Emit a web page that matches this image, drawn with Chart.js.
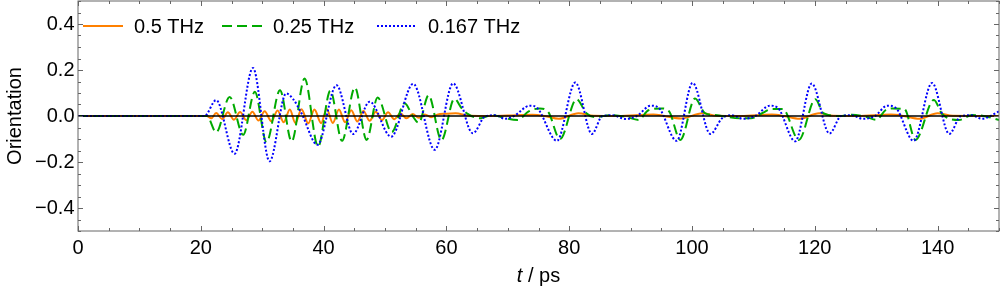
<!DOCTYPE html>
<html>
<head>
<meta charset="utf-8">
<script src="https://cdn.jsdelivr.net/npm/chart.js@4.4.1/dist/chart.umd.min.js"></script>
<style>
  html, body { margin: 0; padding: 0; background: #fff; }
  canvas { display: block; }
</style>
</head>
<body>
<canvas id="chart" width="1000" height="295"></canvas>
<script>
// series: time (ps) and orientation
const t05 = [0, 21.0, 21.7, 22.5, 23.5, 24.4, 25.4, 26.4, 27.4, 28.4, 29.4, 30.4, 31.5, 32.5, 33.5, 34.5, 35.4, 36.4, 37.5, 38.5, 39.6, 40.5, 41.5, 42.5, 43.5, 44.5, 45.5, 46.5, 47.5, 48.5, 49.5, 50.5, 51.5, 52.5, 53.5, 54.5, 55.5, 56.5, 57.5, 58.5, 60.0, 61.5, 63.5, 66, 70, 74, 76, 78.3, 81.5, 84, 88, 93.7, 95.5, 98.2, 101.7, 104, 108, 113, 115, 117.5, 120.7, 123, 127, 132.4, 134.5, 137, 140, 142.5, 150];
const y05 = [0, 0, -0.01, 0.013, -0.013, 0.016, -0.016, 0.017, -0.018, 0.019, -0.02, 0.021, -0.023, 0.024, -0.027, 0.028, -0.03, 0.029, -0.032, 0.028, -0.031, 0.03, -0.03, 0.028, -0.027, 0.025, -0.024, 0.022, -0.021, 0.019, -0.018, 0.016, -0.014, 0.012, -0.01, 0.009, -0.008, 0.007, -0.005, 0.006, 0.01, 0.012, 0.002, 0, 0.002, 0.005, 0, -0.012, 0.012, 0.001, 0, 0.007, 0, -0.011, 0.012, 0.001, 0, 0.006, 0, -0.012, 0.012, 0.001, 0, 0.006, 0, -0.012, 0.012, 0.001, 0];

const t025 = [0, 21.0, 22.5, 24.7, 26.9, 28.8, 30.7, 32.9, 34.8, 36.9, 39.1, 41.1, 43.0, 45.1, 47.0, 48.8, 51.1, 53.2, 54.5, 55.5, 57.1, 59.2, 61.3, 62.5, 63.4, 65.5, 67.5, 69.4, 71.6, 73.4, 75.2, 76.6, 78.5, 81.2, 82.8, 84.2, 86.9, 89.1, 91.3, 92.9, 95.1, 96.3, 98.1, 100.5, 102.1, 103.7, 107.9, 109.6, 111.4, 113.0, 114.8, 117.4, 120.1, 121.4, 124, 126, 128.5, 130.0, 131.5, 132.6, 134.6, 136.4, 139.4, 140.7, 143.5, 145.6, 147.5, 150];
const y025 = [0, 0, -0.071, 0.083, -0.082, 0.105, -0.114, 0.112, -0.111, 0.163, -0.133, 0.11, -0.108, 0.124, -0.104, 0.08, -0.07, 0.055, 0, -0.03, 0.09, -0.105, 0.075, 0.033, 0.01, -0.01, 0.004, -0.008, -0.017, 0.02, 0.033, 0.017, -0.1, 0.073, 0.012, -0.005, 0.004, -0.003, -0.017, 0.025, 0.033, 0.019, -0.104, 0.076, 0.012, 0.004, -0.01, -0.01, 0.012, 0.03, 0.03, -0.104, 0.073, 0.012, 0, 0.005, -0.005, -0.017, 0.025, 0.033, 0.03, -0.104, 0.07, 0.01, -0.017, 0.004, 0, -0.017];

const t0167 = [0, 20.6, 22.5, 25.5, 28.5, 31.2, 33.9, 35.0, 36.4, 39.0, 42.1, 44.8, 47.5, 51.0, 54.6, 58.1, 61.1, 64.3, 66.4, 68.0, 69.5, 71.0, 73.6, 74.8, 78.0, 81.0, 83.7, 85.4, 87.0, 89.2, 91.0, 93.3, 94.6, 97.5, 100.1, 103.0, 104.9, 106.5, 108.3, 110.3, 112.7, 114.0, 116.8, 119.5, 122.4, 124.3, 126.0, 127.8, 129.8, 131.8, 133.2, 136.1, 139.1, 141.9, 143.8, 145.5, 147.2, 150];
const y0167 = [0, 0, 0.069, -0.164, 0.209, -0.197, 0.098, 0.075, 0.012, -0.125, 0.134, -0.078, 0.062, -0.09, 0.14, -0.147, 0.142, -0.075, 0, 0.003, -0.012, 0, 0.045, 0.035, -0.108, 0.146, -0.078, 0, 0.003, -0.013, 0, 0.045, 0.035, -0.108, 0.144, -0.078, -0.01, 0.003, -0.012, 0, 0.045, 0.035, -0.11, 0.141, -0.076, 0, 0.003, -0.012, 0, 0.045, 0.035, -0.108, 0.144, -0.078, 0, 0.003, -0.012, 0.02];

const seriesNames = ["0.5 THz", "0.25 THz", "0.167 THz"];
const xTicks = [0, 20, 40, 60, 80, 100, 120, 140];
const yTicks = [-0.4, -0.2, 0, 0.2, 0.4];

const FONT = '"Liberation Sans", Arial, sans-serif';
const COLORS = ["#ff8000", "#00aa00", "#0000ff"];
const DASHES = [[], [10, 5], [2, 2]];

function pts(ts, ys) {
    return ts.map((t, i) => ({ x: t, y: ys[i] }));
}

// frame, inward ticks, zero line, legend and axis titles in Mathematica style
const framePlugin = {
    id: "frame",
    afterDatasetsDraw(chart) {
        const { ctx, chartArea: a, scales: { x, y } } = chart;
        ctx.save();

        const y0 = y.getPixelForValue(0);
        ctx.strokeStyle = "#000";
        ctx.lineWidth = 1.3;
        ctx.beginPath();
        ctx.moveTo(a.left, y0);
        ctx.lineTo(a.right, y0);
        ctx.stroke();

        ctx.strokeStyle = "#666";
        ctx.lineWidth = 1;
        ctx.strokeRect(a.left, a.top, a.right - a.left, a.bottom - a.top);

        ctx.beginPath();
        for (let v = 0; v <= 150; v += 5) {
            const px = Math.round(x.getPixelForValue(v)) + 0.5;
            const len = v % 20 === 0 ? 5 : 3;
            ctx.moveTo(px, a.bottom); ctx.lineTo(px, a.bottom - len);
            ctx.moveTo(px, a.top); ctx.lineTo(px, a.top + len);
        }
        for (let k = -10; k <= 10; k++) {
            const py = Math.round(y.getPixelForValue(k * 0.05)) + 0.5;
            const len = k % 4 === 0 ? 5 : 3;
            ctx.moveTo(a.left, py); ctx.lineTo(a.left + len, py);
            ctx.moveTo(a.right, py); ctx.lineTo(a.right - len, py);
        }
        ctx.stroke();

        // legend
        ctx.font = "20px " + FONT;
        ctx.textBaseline = "middle";
        ctx.textAlign = "left";
        const legendX = [83, 222, 377];
        const ly = 26;
        seriesNames.forEach((name, i) => {
            ctx.strokeStyle = COLORS[i];
            ctx.lineWidth = 2;
            ctx.setLineDash(DASHES[i]);
            ctx.beginPath();
            ctx.moveTo(legendX[i], ly);
            ctx.lineTo(legendX[i] + 40, ly);
            ctx.stroke();
            ctx.setLineDash([]);
            ctx.fillStyle = "#000";
            ctx.fillText(name, legendX[i] + 51, ly + 1);
        });

        // axis titles
        ctx.fillStyle = "#000";
        ctx.textBaseline = "alphabetic";
        ctx.font = "italic 20px " + FONT;
        const tW = ctx.measureText("t").width;
        ctx.font = "20px " + FONT;
        const rest = " / ps";
        const rW = ctx.measureText(rest).width;
        const cx = (a.left + a.right) / 2;
        const startX = cx - (tW + rW) / 2;
        ctx.font = "italic 20px " + FONT;
        ctx.fillText("t", startX, 282);
        ctx.font = "20px " + FONT;
        ctx.fillText(rest, startX + tW, 282);

        ctx.translate(21, (a.top + a.bottom) / 2);
        ctx.rotate(-Math.PI / 2);
        ctx.textAlign = "center";
        ctx.fillText("Orientation", 0, 0);
        ctx.restore();
    }
};

const data = [pts(t05, y05), pts(t025, y025), pts(t0167, y0167)];

new Chart(document.getElementById("chart"), {
    type: "scatter",
    data: {
        datasets: data.map((d, i) => ({
            label: seriesNames[i],
            data: d,
            showLine: true,
            borderColor: COLORS[i],
            borderWidth: 2,
            borderDash: DASHES[i],
            pointRadius: 0,
            cubicInterpolationMode: "monotone",
            order: 2 - i
        }))
    },
    plugins: [framePlugin],
    options: {
        responsive: false,
        animation: false,
        devicePixelRatio: 1,
        layout: { padding: { top: 1, right: 1, left: 0, bottom: 0 } },
        plugins: { legend: { display: false }, tooltip: { enabled: false } },
        scales: {
            x: {
                type: "linear",
                min: 0, max: 150,
                afterFit: s => { s.height = 64; s.paddingLeft = 0; s.paddingRight = 0; },
                afterBuildTicks: s => { s.ticks = xTicks.map(v => ({ value: v })); },
                grid: { display: false, drawTicks: false },
                border: { display: false },
                ticks: {
                    color: "#000",
                    font: { family: FONT, size: 20 },
                    padding: 5,
                    maxRotation: 0,
                    callback: v => String(v)
                }
            },
            y: {
                type: "linear",
                min: -0.5, max: 0.5,
                afterFit: s => { s.width = 78; s.paddingTop = 0; s.paddingBottom = 0; },
                afterBuildTicks: s => { s.ticks = yTicks.map(v => ({ value: v })); },
                grid: { display: false, drawTicks: false },
                border: { display: false },
                ticks: {
                    color: "#000",
                    font: { family: FONT, size: 20 },
                    padding: 3.5,
                    callback: v => (v < 0 ? "\u2212" : "") + Math.abs(v).toFixed(1)
                }
            }
        }
    }
});
</script>
</body>
</html>
